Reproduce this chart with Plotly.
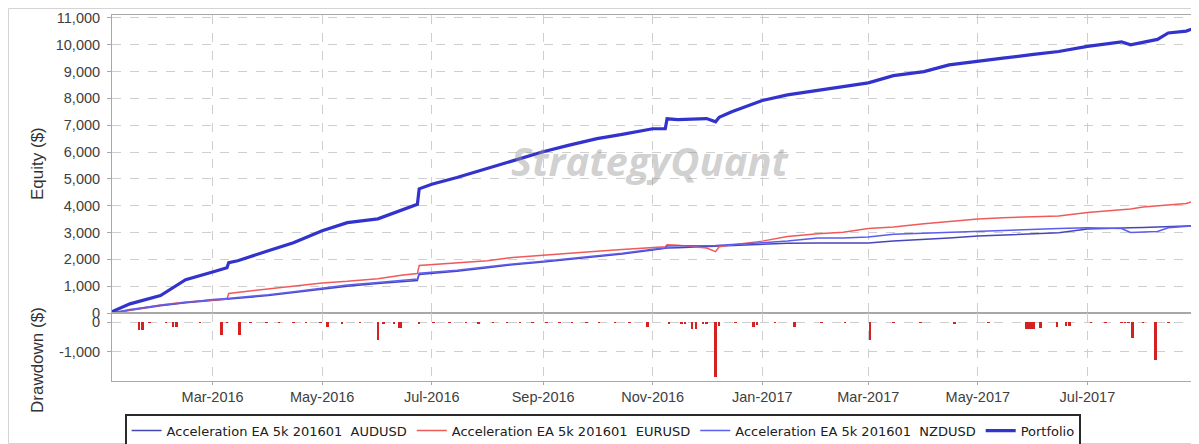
import plotly.graph_objects as go

# ---------------- data ----------------
dates = ["2016-01-05", "2016-01-15", "2016-02-01", "2016-02-15", "2016-03-01", "2016-03-09",
         "2016-03-10", "2016-03-15", "2016-04-01", "2016-04-15", "2016-05-01", "2016-05-15",
         "2016-06-01", "2016-06-15", "2016-06-23", "2016-06-24", "2016-07-01", "2016-07-15",
         "2016-08-01", "2016-08-15", "2016-09-01", "2016-09-15", "2016-10-01", "2016-10-15",
         "2016-11-01", "2016-11-08", "2016-11-09", "2016-11-15", "2016-12-01", "2016-12-06",
         "2016-12-08", "2016-12-15", "2017-01-01", "2017-01-15", "2017-02-01", "2017-02-15",
         "2017-03-01", "2017-03-15", "2017-04-01", "2017-04-15", "2017-05-01", "2017-05-15",
         "2017-06-01", "2017-06-15", "2017-07-01", "2017-07-15", "2017-07-20", "2017-07-25",
         "2017-08-01", "2017-08-09", "2017-08-15", "2017-08-25", "2017-08-31"]

portfolio = [50, 340, 650, 1240, 1530, 1690, 1880, 1950, 2320, 2620, 3070, 3370,
             3510, 3850, 4050, 4630, 4800, 5050, 5400, 5690, 6010, 6250, 6500, 6660,
             6870, 6870, 7240, 7210, 7250, 7130, 7300, 7500, 7920, 8130, 8300, 8410,
             8580, 8850, 9000, 9250, 9370, 9500, 9640, 9750, 9940, 10050, 10110, 10000,
             10080, 10200, 10440, 10510, 10650]

eurusd = [0, 120, 300, 410, 500, 520, 730, 770, 900, 1020, 1120, 1180,
          1280, 1420, 1470, 1770, 1800, 1850, 1950, 2070, 2160, 2240, 2300, 2370,
          2450, 2470, 2540, 2530, 2420, 2290, 2470, 2540, 2680, 2850, 2950, 3010,
          3150, 3210, 3330, 3420, 3500, 3550, 3600, 3620, 3750, 3830, 3850, 3880,
          3950, 4000, 4030, 4080, 4210]

audusd = [0, 110, 270, 380, 480, 530, 535, 550, 650, 760, 900, 1000,
          1100, 1180, 1210, 1440, 1480, 1560, 1690, 1800, 1900, 1990, 2100, 2200,
          2350, 2400, 2420, 2430, 2470, 2480, 2490, 2510, 2560, 2600, 2610, 2610,
          2610, 2680, 2760, 2800, 2870, 2900, 2950, 2990, 3130, 3170, 3180, 3180,
          3190, 3200, 3220, 3240, 3260]

nzdusd = [0, 130, 290, 400, 500, 540, 545, 570, 680, 790, 930, 1040,
          1140, 1230, 1270, 1480, 1510, 1590, 1720, 1830, 1930, 2020, 2130, 2230,
          2380, 2420, 2500, 2500, 2510, 2520, 2530, 2550, 2620, 2680, 2800, 2800,
          2830, 2940, 2980, 3030, 3070, 3100, 3130, 3150, 3180, 3170, 3150, 3000,
          3020, 3040, 3180, 3230, 3260]

dd_dates = ["2016-01-20", "2016-01-22", "2016-01-26", "2016-02-04", "2016-02-08", "2016-02-10",
            "2016-02-23", "2016-03-06", "2016-03-09", "2016-03-16", "2016-03-22", "2016-03-31",
            "2016-04-07", "2016-04-15", "2016-04-22", "2016-04-30", "2016-05-04", "2016-05-12",
            "2016-05-22", "2016-06-01", "2016-06-04", "2016-06-10", "2016-06-13", "2016-06-14",
            "2016-06-24", "2016-07-02", "2016-07-11", "2016-07-20", "2016-07-27", "2016-08-04",
            "2016-08-12", "2016-08-19", "2016-08-26", "2016-09-03", "2016-09-10", "2016-09-17",
            "2016-09-25", "2016-10-02", "2016-10-11", "2016-10-19", "2016-10-29", "2016-11-10",
            "2016-11-17", "2016-11-19", "2016-11-23", "2016-11-25", "2016-11-29", "2016-12-01",
            "2016-12-06", "2016-12-08", "2016-12-17", "2016-12-27", "2016-12-29", "2017-01-08",
            "2017-01-19", "2017-02-03", "2017-02-16", "2017-03-02", "2017-03-15", "2017-03-30",
            "2017-04-18", "2017-05-07", "2017-05-28", "2017-05-29", "2017-05-30", "2017-05-31",
            "2017-06-01", "2017-06-05", "2017-06-14", "2017-06-19", "2017-06-21", "2017-07-03",
            "2017-07-11", "2017-07-20", "2017-07-22", "2017-07-24", "2017-07-26", "2017-08-01",
            "2017-08-08", "2017-08-15", "2017-08-30"]
dd_values = [-250, -250, -20, -20, -150, -150,
             -20, -420, -20, -420, -20, -20,
             -20, -20, -20, -20, -150, -50,
             -20, -610, -60, -80, -190, -190,
             -70, -20, -20, -20, -80, -20,
             -20, -20, -20, -20, -20, -20,
             -20, -20, -20, -20, -170, -40,
             -60, -60, -220, -220, -40, -40,
             -1830, -120, -20, -150, -100, -20,
             -150, -20, -20, -610, -30, -30,
             -40, -20, -240, -240, -240, -240,
             -240, -200, -150, -140, -120, -30,
             -30, -30, -30, -30, -520, -20,
             -1255, -30, -20]

equity_ticks = list(range(0, 11001, 1000))
equity_ticktext = [f"{v:,}" for v in equity_ticks]
dd_ticks = [-1000, 0]
dd_ticktext = ["-1,000", "0"]

series = [
    ("Acceleration EA 5k 201601  AUDUSD", audusd, "#4646b8", 1.5),
    ("Acceleration EA 5k 201601  EURUSD", eurusd, "#f05a5a", 1.5),
    ("Acceleration EA 5k 201601  NZDUSD", nzdusd, "#5c5cf0", 1.5),
    ("Portfolio", portfolio, "#3232cc", 3.2),
]

# ---------------- figure ----------------
fig = go.Figure()
for name, vals, color, width in series:
    fig.add_trace(go.Scatter(x=dates, y=vals, name=name, mode="lines",
                             line=dict(color=color, width=width),
                             xaxis="x", yaxis="y"))

fig.add_trace(go.Bar(x=dd_dates, y=dd_values, marker=dict(color="#d42222", line=dict(width=0)),
                     width=1.4 * 86400000, showlegend=False, xaxis="x2", yaxis="y2"))

# The page body adds an 8 px offset, so the figure is laid out 8 px smaller
OFF = 8
W, H = 1199 - OFF, 444 - OFF
L = 112 - OFF            # plot left edge (reference px 112)
R = W - (1197 - OFF)     # plot right edge (reference px 1197)
T = 15 - OFF             # plot top (reference px 15)
B = H - (381 - OFF)      # plot bottom (reference px 381)
pw, ph = W - L - R, H - T - B
split = (381 - 313) / ph


def px_x(p):
    return (p - OFF - L) / pw


def px_y(p):
    return (H - B - (p - OFF)) / ph


grid = dict(showgrid=True, gridcolor="#cfcfcf", griddash="dash", gridwidth=1)
frame = dict(showline=True, linecolor="#a8a8a8", linewidth=1, mirror=True)
tickfont = dict(family="Liberation Sans, Arial, sans-serif", size=14.5, color="#404040")
xrange = ["2016-01-05", "2017-08-31"]

fig.update_layout(
    width=W, height=H,
    margin=dict(l=L, r=R, t=T, b=B, autoexpand=False),
    paper_bgcolor="white", plot_bgcolor="white",
    bargap=0,
    showlegend=True,
    xaxis=dict(domain=[0, 1], anchor="y", range=xrange, type="date",
               dtick="M2", tick0="2016-03-01", showticklabels=False,
               ticks="", zeroline=False, **grid, **frame),
    xaxis2=dict(domain=[0, 1], anchor="y2", range=xrange, type="date", matches="x",
                dtick="M2", tick0="2016-03-01", tickformat="%b-%Y",
                ticks="outside", ticklen=3, tickcolor="#a8a8a8",
                tickfont=tickfont, zeroline=False, **grid, **frame),
    yaxis=dict(domain=[split, 1], anchor="x", range=[0, 11110],
               tickmode="array", tickvals=equity_ticks, ticktext=equity_ticktext,
               ticks="outside", ticklen=4, tickcolor="#a8a8a8", ticklabelstandoff=4,
               tickfont=tickfont, zeroline=False, **grid, **frame),
    yaxis2=dict(domain=[0, split], anchor="x2", range=[-1967, 300],
                tickmode="array", tickvals=dd_ticks, ticktext=dd_ticktext,
                ticks="outside", ticklen=4, tickcolor="#a8a8a8", ticklabelstandoff=4,
                tickfont=tickfont, zeroline=False, **grid, **frame),
    legend=dict(orientation="h", x=px_x(125), y=px_y(414), xanchor="left", yanchor="top",
                bordercolor="#2a2a2a", borderwidth=1.6, bgcolor="white",
                font=dict(family="DejaVu Sans, Verdana, sans-serif", size=13, color="#202020"),
                itemwidth=30, tracegroupgap=0),
    annotations=[
        dict(text="Equity ($)", x=px_x(37), y=px_y(164), xref="paper", yref="paper",
             textangle=-90, showarrow=False, xanchor="center", yanchor="middle",
             font=dict(family="Liberation Sans, Arial, sans-serif", size=17, color="#333333")),
        dict(text="Drawdown ($)", x=px_x(37), y=px_y(360), xref="paper", yref="paper",
             textangle=-90, showarrow=False, xanchor="center", yanchor="middle",
             font=dict(family="Liberation Sans, Arial, sans-serif", size=17, color="#333333")),
        dict(text="StrategyQuant", x=px_x(650), y=px_y(160), xref="paper", yref="paper",
             showarrow=False, xanchor="center", yanchor="middle",
             font=dict(family="Open Sans, DejaVu Sans, sans-serif", size=40,
                       color="rgba(150,150,150,0.45)", weight="bold", style="italic")),
    ],
    shapes=[
        dict(type="rect", xref="paper", yref="paper",
             x0=px_x(OFF + 0.5), x1=px_x(1198.5), y0=px_y(443.5), y1=px_y(OFF + 0.5),
             line=dict(color="#d4d4d4", width=1), fillcolor="rgba(0,0,0,0)", layer="below"),
    ],
)

fig.write_html("out.html")
